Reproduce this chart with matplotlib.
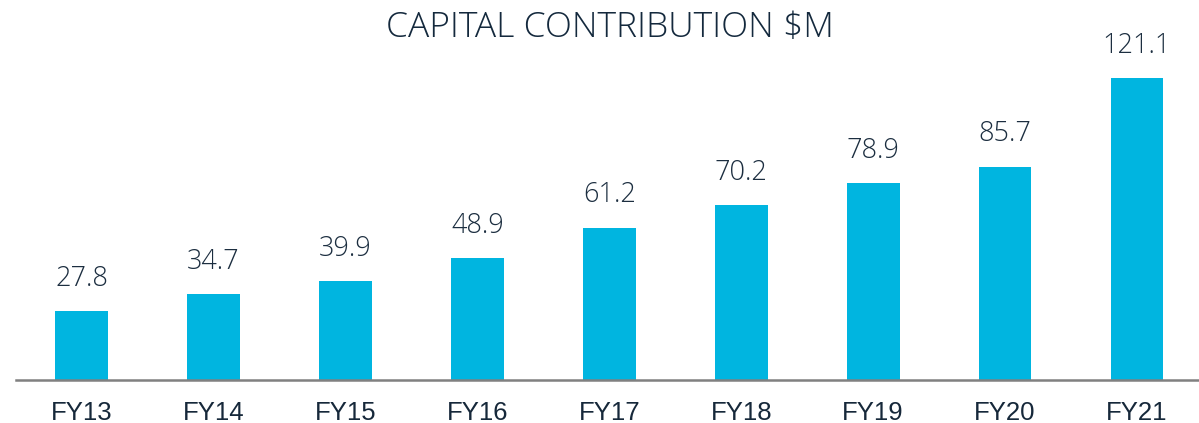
import matplotlib
matplotlib.use("Agg")
import matplotlib.pyplot as plt

years = ["FY13", "FY14", "FY15", "FY16", "FY17", "FY18", "FY19", "FY20", "FY21"]
contribution = [27.8, 34.7, 39.9, 48.9, 61.2, 70.2, 78.9, 85.7, 121.1]

W, H = 1199, 423
fig = plt.figure(figsize=(W / 100, H / 100), dpi=100)
ax = fig.add_axes([16 / W, (H - 380) / H, (W - 16) / W, 350 / H])

x = range(len(years))
bars = ax.bar(x, contribution, width=0.40, color="#00b5e0", zorder=2)

for b, v in zip(bars, contribution):
    ax.annotate(f"{v:.1f}", (b.get_x() + b.get_width() / 2, v),
                xytext=(0, 13), textcoords="offset points",
                ha="center", va="bottom", fontsize=19.5, weight="light",
                family="Open Sans", color="#1c2e40")

ax.set_xlim(-0.497, 8.47)
ax.set_ylim(0, 140.5)
ax.set_xticks(list(x))
ax.set_xticklabels(years, fontsize=18.5, family="Liberation Sans", color="#16283a")
ax.tick_params(axis="x", length=0, pad=15)
ax.set_yticks([])
for s in ["top", "right", "left"]:
    ax.spines[s].set_visible(False)
ax.spines["bottom"].set_color("#808080")
ax.spines["bottom"].set_linewidth(1.8)

fig.text(0.509, 0.935, "CAPITAL CONTRIBUTION $M", ha="center", va="center",
         fontsize=25.5, weight="light", family="Open Sans", color="#14293d")

fig.savefig("out.png", dpi=100)
